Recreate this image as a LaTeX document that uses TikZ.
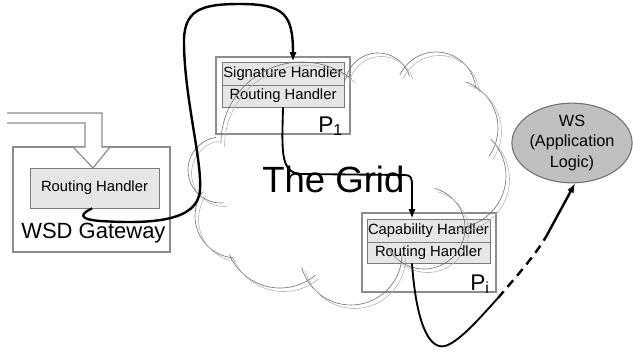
\documentclass[tikz,border=0pt]{standalone}
\usepackage{fontspec}
\setmainfont{Liberation Sans}
\usetikzlibrary{arrows.meta,calc,fit,shapes.geometric}

\definecolor{boxline}{HTML}{8C8C8C}
\definecolor{handlerfill}{HTML}{E6E6E6}
\definecolor{handlerline}{HTML}{7A7A7A}
\definecolor{wsfill}{HTML}{C0C0C0}
\definecolor{wsline}{HTML}{707070}
\definecolor{clouddark}{HTML}{6E6E6E}
\definecolor{cloudlight}{HTML}{B4B4B4}

% one puff of the cloud: centre x, centre y, radius, start angle, end angle
\newcommand\cloudlobe[5]{%
  \draw[lobedark] (#1,#2) ++(#4:#3) arc[start angle=#4, end angle=#5, radius=#3];
  \draw[lobelight] (#1+3.5,#2+3.5) ++(#4:#3) arc[start angle=#4, end angle=#5, radius=#3];
}

\begin{document}
\begin{tikzpicture}[x=0.75pt,y=-0.75pt,
  container/.style={draw=boxline, line width=0.9pt, inner sep=0pt},
  handler/.style={draw=handlerline, fill=handlerfill, line width=0.7pt, inner sep=0pt,
    font=\fontsize{11.1}{13}\selectfont},
  biglabel/.style={inner sep=0pt, anchor=base west},
  lobedark/.style={draw=clouddark, line width=0.45pt},
  lobelight/.style={draw=cloudlight, line width=0.45pt},
  conn/.style={draw=black, line width=1.8pt},
  thinconn/.style={draw=black, line width=1.4pt},
  tip/.style={-{Latex[length=7pt,width=5.5pt]}},
]
\useasboundingbox (0,0) rectangle (633,354);

% WSD gateway with its incoming pipe
\node[container, fit={(13,147) (170,252)}] (gw) {};
\fill[white] (7,113) -- (102,113) -- (102,147) -- (110,147) -- (93,168)
  -- (73,147) -- (85,147) -- (85,123) -- (7,123) -- cycle;
\draw[boxline, line width=0.9pt, line join=miter] (7,113) -- (102,113) -- (102,147)
  -- (110,147) -- (93,168) -- (73,147) -- (85,147) -- (85,123) -- (7,123);
\node[handler, minimum width=96.75pt, minimum height=30pt] (gwrh) at (94.5,188) {Routing Handler};

% intermediary P1
\node[container, fit={(216,57) (350,134)}] (p1) {};
\node[handler, minimum width=91.5pt, minimum height=17.25pt] (sig) at (283,73.5) {Signature Handler};
\node[handler, minimum width=91.5pt, minimum height=16.5pt] (rh1) at (283,96) {Routing Handler};

% intermediary Pi
\node[container, fit={(362,213) (496,292)}] (pi) {};
\node[handler, minimum width=92.25pt, minimum height=17.25pt] (cap) at (428.5,230.5) {Capability Handler};
\node[handler, minimum width=92.25pt, minimum height=15.75pt] (rh2) at (428.5,252.5) {Routing Handler};

% the service
\node[ellipse, draw=wsline, fill=wsfill, line width=0.8pt, inner sep=0pt,
  minimum width=89pt, minimum height=54pt, align=center,
  font=\fontsize{12.2}{15.6}\selectfont] (ws) at (572,143) {WS\\(Application\\Logic)};

% the grid cloud
\cloudlobe{302}{143}{81}{180}{308}
\cloudlobe{378}{86}{33}{190}{342}
\cloudlobe{436}{92}{40}{205}{355}
\cloudlobe{449}{128}{49}{-70}{35}
\cloudlobe{454}{176}{52}{-45}{95}
\cloudlobe{424}{228}{41}{-75}{150}
\cloudlobe{351}{254}{51}{0}{165}
\cloudlobe{280}{233}{55}{50}{157}
\cloudlobe{237}{216}{42}{95}{215}
\cloudlobe{221}{170}{33}{85}{262}

% labels
\node[biglabel, font=\fontsize{16.5}{18}\selectfont] (gwlabel) at (21,238) {WSD Gateway};
\node[biglabel, font=\fontsize{27.4}{30}\selectfont] (grid) at (262,192) {The Grid};
\node[biglabel, font=\fontsize{17}{19}\selectfont] (p1label) at (318,132) {P\textsubscript{1}};
\node[biglabel, font=\fontsize{17}{19}\selectfont] (pilabel) at (470,290) {P\textsubscript{i}};

% message path
\draw[conn, tip] ($(gwrh.south)+(-2.5,0)$) .. controls (82,213) and (76,219) .. (100,221)
  .. controls (150,224) and (198,222) .. (200,190)
  .. controls (202,160) and (185,100) .. (184,45)
  .. controls (183,10) and (200,4) .. (240,4)
  .. controls (285,4) and (293,15) .. ($(sig.north)+(10,0)$);

\draw[thinconn, tip] (rh1.south) .. controls (282,150) and (280,172) .. (300,174)
  -- (405,175) .. controls (411,175) and (412,178) .. (412,186)
  -- ($(cap.north)+(-16.5,0)$);

\coordinate (dashA) at (498,298);
\coordinate (dashB) at (547,235);
\draw[thinconn] ($(rh2.south)+(-16.5,0)$) .. controls (416,320) and (428,350) .. (445,346)
  .. controls (460,342) and (485,312) .. (dashA);
\draw[conn, dash pattern=on 6.5pt off 4.5pt] (dashA) .. controls (515,278) and (535,256) .. (dashB);
\draw[conn, tip] (dashB) -- ($(ws.south)+(3,0)$);
\end{tikzpicture}
\end{document}
